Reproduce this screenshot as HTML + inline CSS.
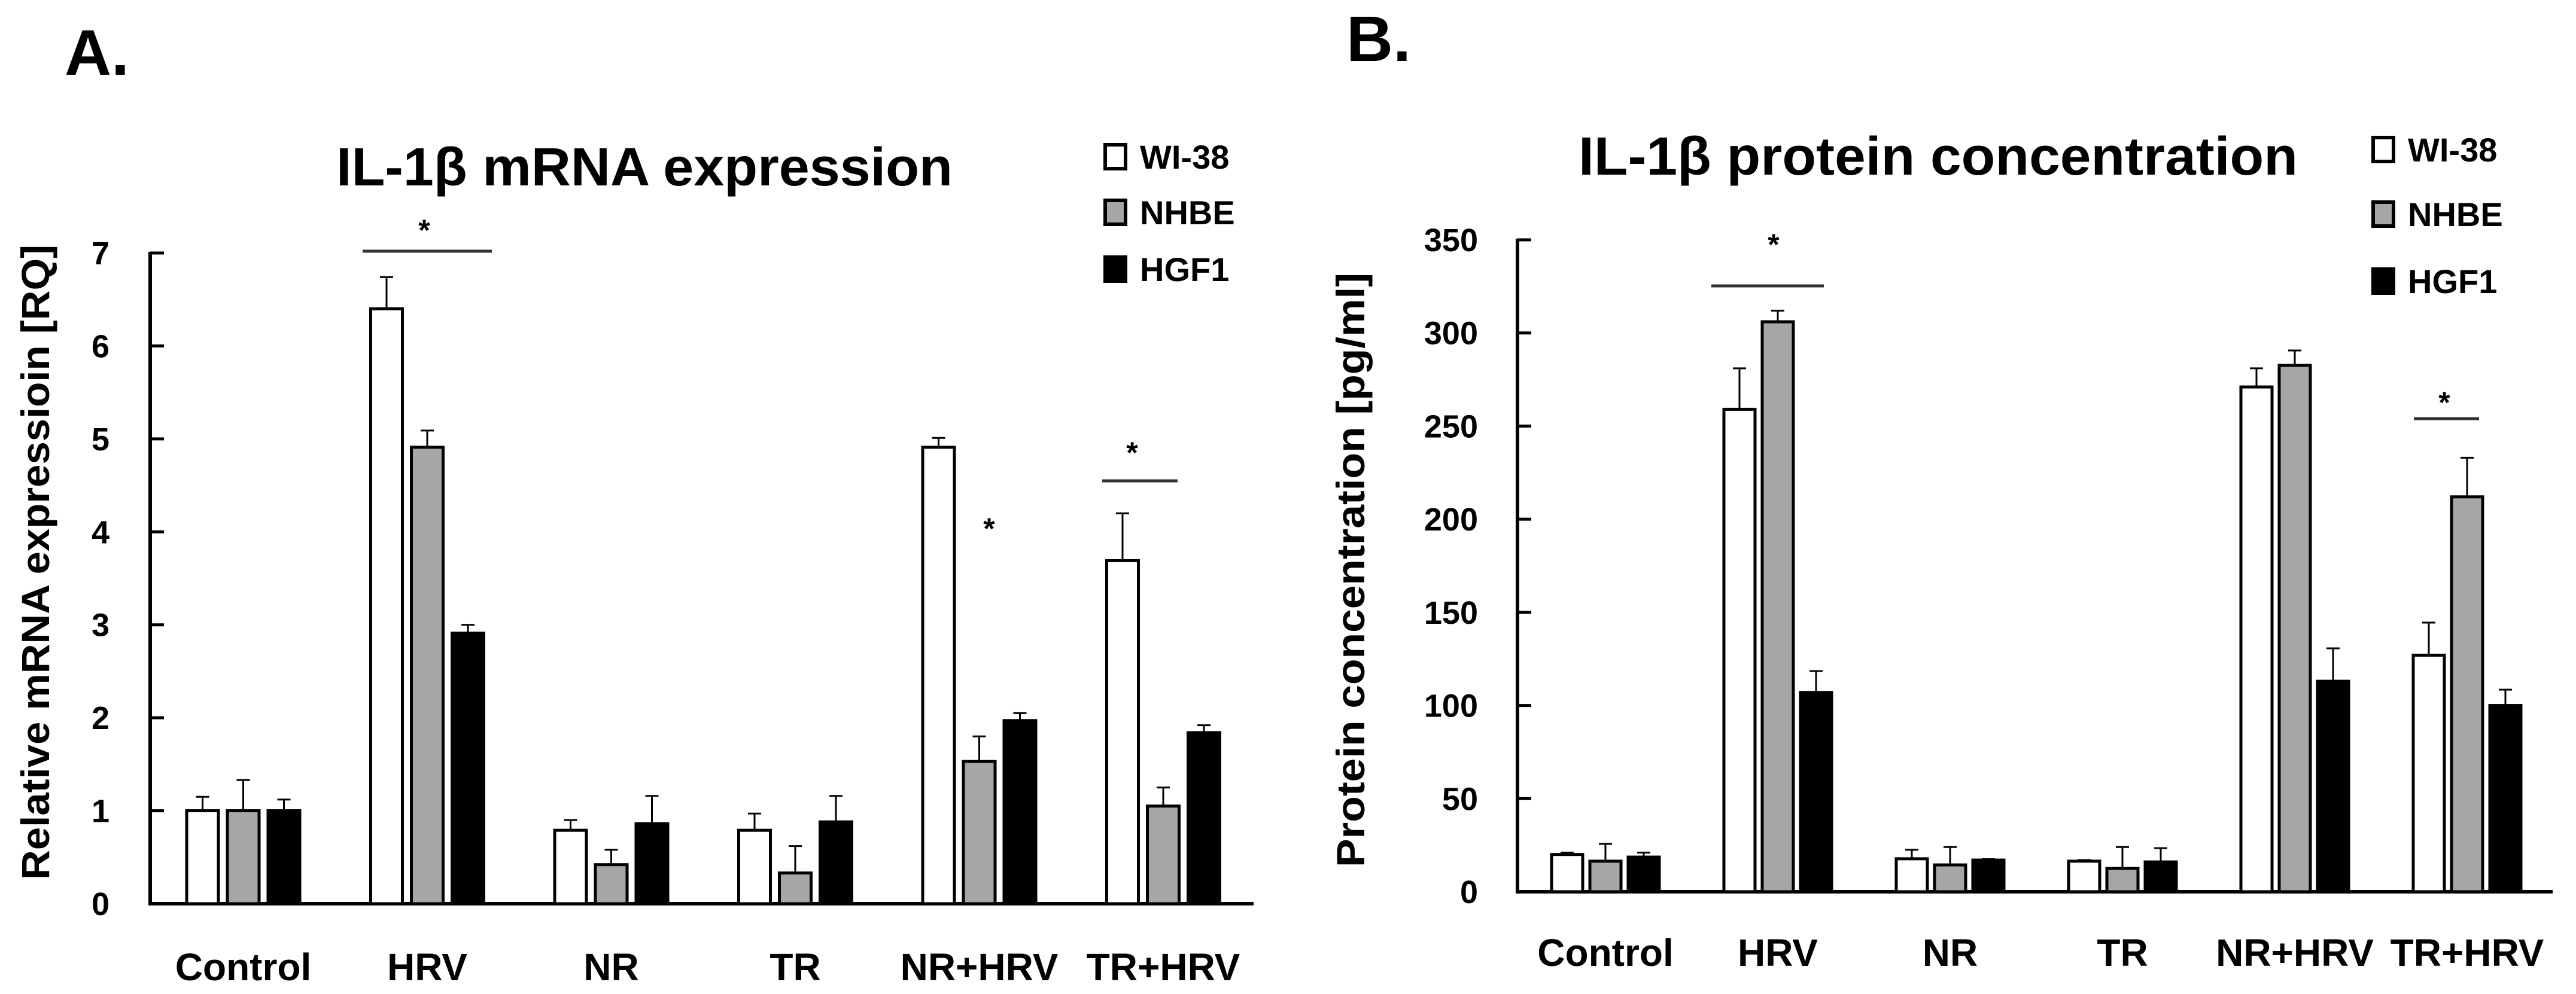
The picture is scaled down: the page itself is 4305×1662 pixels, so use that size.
<!DOCTYPE html>
<html><head><meta charset="utf-8"><style>
html,body{margin:0;padding:0;background:#fff;}
svg{display:block;font-family:"Liberation Sans",sans-serif;font-weight:bold;}
</style></head><body>
<svg id="fig" width="4305" height="1662" viewBox="0 0 4305 1662" xmlns="http://www.w3.org/2000/svg"></svg>
<script>
const categories = ["Control","HRV","NR","TR","NR+HRV","TR+HRV"];
const seriesNames = ["WI-38","NHBE","HGF1"];
const seriesFills = ["#ffffff","#a6a6a6","#000000"];

const mrnaWI38 = [1.0, 6.40, 0.79, 0.79, 4.91, 3.69];
const mrnaNHBE = [1.0, 4.91, 0.42, 0.33, 1.53, 1.05];
const mrnaHGF1 = [1.0, 2.91, 0.86, 0.88, 1.97, 1.84];
const mrnaErrWI38 = [0.15, 0.34, 0.11, 0.18, 0.10, 0.51];
const mrnaErrNHBE = [0.33, 0.18, 0.16, 0.29, 0.27, 0.20];
const mrnaErrHGF1 = [0.12, 0.09, 0.30, 0.28, 0.08, 0.08];
const mrnaTicks = [0,1,2,3,4,5,6,7];

const protWI38 = [20, 259, 17.7, 16.4, 271, 127];
const protNHBE = [16.4, 306, 14.4, 12.5, 282.6, 212];
const protHGF1 = [18.6, 107, 17, 16, 113, 100];
const protErrWI38 = [1, 22, 4.8, 0.6, 10, 17.5];
const protErrNHBE = [9.3, 6, 9.6, 11.5, 8, 21];
const protErrHGF1 = [2.4, 11.5, 0.5, 7.4, 17.7, 8.5];
const protTicks = [0,50,100,150,200,250,300,350];

const NS = "http://www.w3.org/2000/svg";
const svg = document.getElementById("fig");
function mk(tag, attrs, parent, text){
  const e = document.createElementNS(NS, tag);
  for (const k in attrs) e.setAttribute(k, attrs[k]);
  if (text !== undefined) e.textContent = text;
  (parent || svg).appendChild(e);
  return e;
}

function drawChart(cfg){
  const g = mk("g", {});
  
  
  const y = v => cfg.y0 - (v - cfg.vmin) / (cfg.vmax - cfg.vmin) * (cfg.y0 - cfg.yTop);
  const x = i => cfg.x0 + i * cfg.groupStep;

  const pl = mk("text", {x: cfg.letterX, y: cfg.letterY, "font-size": 108}, g, cfg.letter);
  
  
  const t = mk("text", {x: cfg.titleX, y: cfg.titleY, "font-size": 90, textLength: cfg.titleW, lengthAdjust: "spacingAndGlyphs"}, g, cfg.title);
  
  

  const yl = mk("text", {x: 0, y: 0, "font-size": 66, "text-anchor": "middle",
    transform: `translate(${cfg.ylabX},${cfg.ylabY}) rotate(-90)`, textLength: cfg.ylabW, lengthAdjust: "spacingAndGlyphs"}, g, cfg.ylab);
  
  

  const ax = mk("line", {x1: cfg.axisX, y1: y(cfg.ticks[cfg.ticks.length-1]) - 2, x2: cfg.axisX, y2: cfg.y0 + 3, stroke: "#000", "stroke-width": 6}, g);
  
  
  const bx = mk("line", {x1: cfg.axisX - 3, y1: cfg.y0, x2: cfg.axisEnd, y2: cfg.y0, stroke: "#000", "stroke-width": 6}, g);
  
  

  cfg.ticks.forEach(tv => {
    const tk = mk("line", {x1: cfg.axisX, y1: y(tv), x2: cfg.axisX + 23, y2: y(tv), stroke: "#000", "stroke-width": 5}, g);
    
    
    const tl = mk("text", {x: cfg.tickLabX, y: y(tv) + 19, "font-size": 54, "text-anchor": "end"}, g, String(tv));
    
    
  });

  categories.forEach((c, i) => {
    cfg.series.forEach((vals, s) => {
      const bxl = x(i) + s * cfg.pitch;
      const top = y(vals[i]);
      const eTop = y(vals[i] + cfg.errs[s][i]);
      const cx = bxl + cfg.barW / 2;
      const el = mk("line", {x1: cx, y1: eTop, x2: cx, y2: top, stroke: "#000", "stroke-width": 3}, g);
      
      
      const ec = mk("line", {x1: cx - 11, y1: eTop, x2: cx + 11, y2: eTop, stroke: "#000", "stroke-width": 3}, g);
      
      
      const r = mk("rect", {x: bxl, y: top, width: cfg.barW, height: cfg.y0 - top, fill: seriesFills[s], stroke: "#000", "stroke-width": 5}, g);
      
      
    });
    const cl = mk("text", {x: x(i) + cfg.pitch + cfg.barW / 2, y: cfg.catY, "font-size": 64, "text-anchor": "middle"}, g, c);
    
    
  });

  cfg.sig.forEach(sg => {
    if (sg.line) {
      const ln = mk("line", {x1: sg.line[0], y1: sg.line[2], x2: sg.line[1], y2: sg.line[2], stroke: "#333", "stroke-width": 5}, g);
      
      
    }
    const st = mk("text", {x: sg.sx, y: sg.sy + 22, "font-size": 50, "text-anchor": "middle"}, g, "*");
    
    
  });

  seriesNames.forEach((n, s) => {
    const cy = cfg.legY[s];
    const lb = mk("rect", {x: cfg.legX, y: cy - 20, width: 34, height: 40, fill: seriesFills[s], stroke: "#000", "stroke-width": 6}, g);
    
    
    const lt = mk("text", {x: cfg.legX + 58, y: cy + 20, "font-size": 56}, g, n);
    
    
  });
}

drawChart({
  name: "chart-mrna", letter: "A.", letterX: 108, letterY: 125,
  title: "IL-1β mRNA expression", titleX: 562, titleY: 310, titleW: 1030,
  ylab: "Relative mRNA expressioin [RQ]", ylabX: 82, ylabY: 940, ylabW: 1062,
  vmin: 0, vmax: 7, y0: 1511, yTop: 423, ticks: mrnaTicks,
  axisX: 251, axisEnd: 2095, tickLabX: 183,
  x0: 312, groupStep: 307.5, pitch: 68, barW: 53, catY: 1639,
  series: [mrnaWI38, mrnaNHBE, mrnaHGF1], errs: [mrnaErrWI38, mrnaErrNHBE, mrnaErrHGF1],
  sig: [{line: [606, 822, 420], sx: 709, sy: 380}, {sx: 1653, sy: 879}, {line: [1842, 1968, 804], sx: 1892, sy: 752}],
  legX: 1847, legY: [262, 355, 450]
});

drawChart({
  name: "chart-protein", letter: "B.", letterX: 2250, letterY: 102,
  title: "IL-1β protein concentration", titleX: 2638, titleY: 292, titleW: 1202,
  ylab: "Protein concentration [pg/ml]", ylabX: 2280, ylabY: 953, ylabW: 994,
  vmin: 0, vmax: 350, y0: 1491, yTop: 401, ticks: protTicks,
  axisX: 2536, axisEnd: 4266, tickLabX: 2470,
  x0: 2593, groupStep: 288, pitch: 64, barW: 52, catY: 1615,
  series: [protWI38, protNHBE, protHGF1], errs: [protErrWI38, protErrNHBE, protErrHGF1],
  sig: [{line: [2860, 3048, 478], sx: 2964, sy: 404}, {line: [4034, 4143, 700], sx: 4085, sy: 668}],
  legX: 3966, legY: [250, 358, 470]
});
</script>
</body></html>
